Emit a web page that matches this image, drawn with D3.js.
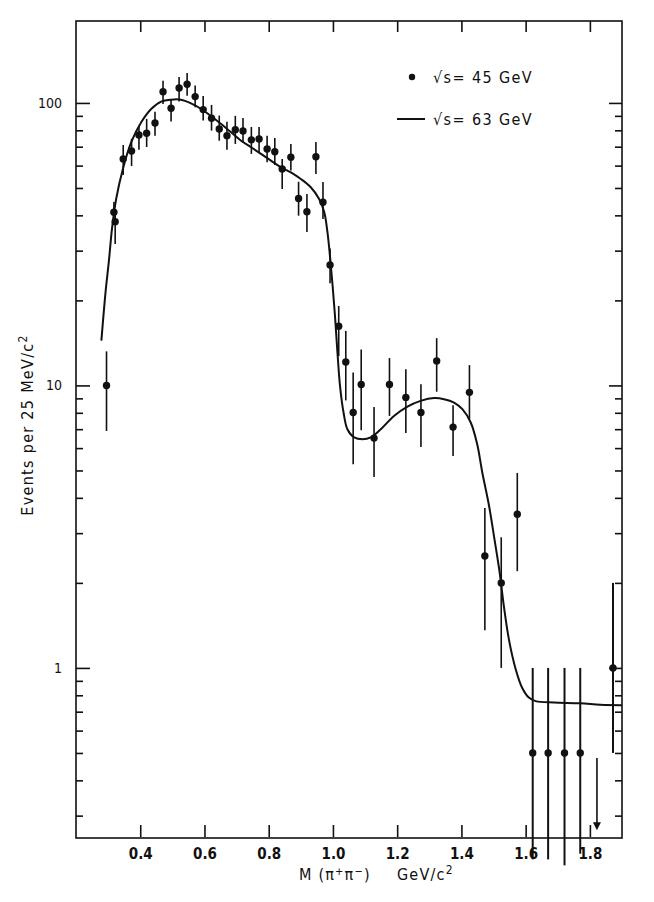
<!DOCTYPE html>
<html>
<head>
<meta charset="utf-8">
<script src="https://cdn.jsdelivr.net/npm/d3@7"></script>
<style>
  html, body { margin: 0; padding: 0; background: #fff; }
  svg { display: block; }
  text { font-family: "DejaVu Sans Condensed", "Liberation Sans Narrow", "DejaVu Sans", sans-serif; font-stretch: condensed; fill: #111; }
</style>
</head>
<body>
<svg id="chart" width="654" height="902"></svg>
<script>
// ---- data: sqrt(s) = 45 GeV points (mass in GeV/c^2, events per 25 MeV/c^2) ----
const mass45 = [0.295, 0.318, 0.322, 0.347, 0.373, 0.396, 0.420, 0.446, 0.471, 0.496,
                0.521, 0.546, 0.571, 0.596, 0.622, 0.646, 0.670, 0.696, 0.720, 0.746,
                0.770, 0.795, 0.819, 0.842, 0.869, 0.893, 0.919, 0.947, 0.969, 0.991,
                1.018, 1.040, 1.063, 1.088, 1.128, 1.176, 1.227, 1.274, 1.323, 1.374,
                1.425, 1.473, 1.524, 1.574, 1.622, 1.670, 1.721, 1.770, 1.872];
const events45 = [10.0, 41.0, 38.0, 63.3, 67.6, 77.0, 78.1, 84.9, 109.6, 95.8,
                  113.0, 116.5, 105.3, 94.7, 88.3, 80.9, 76.6, 80.4, 79.6, 74.0,
                  74.6, 68.7, 67.2, 58.4, 64.2, 45.9, 41.2, 64.5, 44.5, 26.7,
                  16.2, 12.1, 8.02, 10.08, 6.51, 10.08, 9.07, 8.02, 12.2, 7.12,
                  9.45, 2.49, 2.0, 3.5, 0.5, 0.5, 0.5, 0.5, 1.0];
const errHigh45 = [13.2, 44.6, 41.5, 71.0, 74.6, 83.1, 87.8, 93.1, 119.9, 103.3,
                   123.6, 127.7, 115.2, 105.9, 98.4, 90.2, 85.7, 90.0, 88.5, 82.2,
                   82.2, 76.6, 75.2, 63.3, 71.6, 52.6, 47.6, 72.8, 52.5, 30.5,
                   19.1, 15.6, 11.1, 13.4, 8.38, 12.5, 11.4, 10.1, 14.7, 8.5,
                   11.8, 3.68, 2.9, 4.9, 1.0, 1.0, 1.0, 1.0, 2.0];
const errLow45 = [6.9, 37.5, 31.7, 55.6, 59.8, 68.3, 69.8, 76.6, 99.2, 85.9,
                  101.1, 106.1, 96.6, 86.6, 79.8, 73.5, 68.3, 71.6, 72.2, 66.0,
                  67.1, 61.7, 60.3, 49.6, 57.6, 39.9, 34.9, 56.0, 38.8, 23.0,
                  12.7, 8.85, 5.26, 6.94, 4.74, 7.8, 6.78, 6.05, 9.5, 5.63,
                  7.6, 1.36, 1.0, 2.2, 0.21, 0.21, 0.20, 0.22, 0.5];
// upper limit point
const limitMass = [1.822];
const limitTop = [0.48];
const limitVal = [0.275];

// ---- data: sqrt(s) = 63 GeV fitted curve ----
const fitMass = [0.279, 0.292, 0.303, 0.312, 0.325, 0.346, 0.372, 0.403, 0.434, 0.465,
                 0.496, 0.527, 0.558, 0.590, 0.621, 0.652, 0.683, 0.714, 0.745, 0.776,
                 0.807, 0.838, 0.869, 0.900, 0.931, 0.957, 0.973, 0.983, 0.991, 0.999,
                 1.007, 1.014, 1.022, 1.033, 1.045, 1.066, 1.092, 1.118, 1.149, 1.190,
                 1.232, 1.273, 1.315, 1.346, 1.377, 1.403, 1.429, 1.449, 1.465, 1.486,
                 1.503, 1.519, 1.532, 1.548, 1.569, 1.589, 1.610, 1.631, 1.688, 1.770,
                 1.833, 1.900];
const fitEvents = [14.4, 21.4, 28.0, 35.8, 45.7, 58.4, 72.6, 85.4, 95.2, 101.1,
                   102.7, 102.7, 99.7, 95.2, 89.7, 84.2, 78.7, 73.5, 69.7, 66.0,
                   62.5, 59.2, 56.8, 53.8, 50.3, 45.7, 41.0, 34.8, 28.5, 22.5,
                   17.2, 13.1, 9.97, 8.02, 7.0, 6.55, 6.45, 6.55, 7.0, 7.8,
                   8.42, 8.82, 9.02, 8.94, 8.7, 8.24, 7.39, 6.2, 4.92, 3.75,
                   2.85, 2.18, 1.66, 1.26, 0.99, 0.851, 0.785, 0.763, 0.754, 0.75,
                   0.74, 0.738];

// ---- ticks ----
const xTicks = [0.4, 0.6, 0.8, 1.0, 1.2, 1.4, 1.6, 1.8];
const xTickLabels = ["0.4", "0.6", "0.8", "1.0", "1.2", "1.4", "1.6", "1.8"];
const yMajor = [1, 10, 100];
const yMajorLabels = ["1", "10", "100"];

// ---- layout ----
const L = 76, R = 622, T = 21, B = 838;
const svg = d3.select("#chart");
svg.append("rect").attr("width", 654).attr("height", 902).attr("fill", "#fff");

const x = d3.scaleLinear().domain([0.2, 1.9]).range([L, R]);
const y = d3.scaleLog().domain([0.25, 195]).range([B, T]);
const yMinor = y.ticks().filter(v => !yMajor.includes(v));

// frame
svg.append("rect").attr("x", L).attr("y", T).attr("width", R - L).attr("height", B - T)
  .attr("fill", "none").attr("stroke", "#111").attr("stroke-width", 1.6);

function styleAxis(g) {
  g.select(".domain").remove();
  g.selectAll("line").attr("stroke", "#111").attr("stroke-width", 1.6);
}

// left axis: major with labels, minor without
svg.append("g").attr("transform", `translate(${L},0)`)
  .call(d3.axisLeft(y).tickValues(yMajor).tickSizeInner(-14).tickSizeOuter(0).tickPadding(14)
    .tickFormat((d, i) => yMajorLabels[i]))
  .call(styleAxis)
  .call(g => g.selectAll("text").attr("font-size", 14).attr("fill", "#111")
    .style("font-family", "'DejaVu Sans Condensed','Liberation Sans Narrow',sans-serif"));
svg.append("g").attr("transform", `translate(${L},0)`)
  .call(d3.axisLeft(y).tickValues(yMinor).tickSizeInner(-7).tickSizeOuter(0).tickFormat(""))
  .call(styleAxis);

// right axis
svg.append("g").attr("transform", `translate(${R},0)`)
  .call(d3.axisRight(y).tickValues(yMajor).tickSizeInner(-13).tickSizeOuter(0).tickFormat(""))
  .call(styleAxis);
svg.append("g").attr("transform", `translate(${R},0)`)
  .call(d3.axisRight(y).tickValues(yMinor).tickSizeInner(-7).tickSizeOuter(0).tickFormat(""))
  .call(styleAxis);

// bottom axis
svg.append("g").attr("transform", `translate(0,${B - 1})`)
  .call(d3.axisBottom(x).tickValues(xTicks).tickSizeInner(-12).tickSizeOuter(0).tickPadding(11)
    .tickFormat((d, i) => xTickLabels[i]))
  .call(styleAxis)
  .call(g => g.selectAll("text").attr("font-size", 15).attr("font-weight", "bold").attr("fill", "#111")
    .style("font-family", "'DejaVu Sans Condensed','Liberation Sans Narrow',sans-serif"));

// top axis
svg.append("g").attr("transform", `translate(0,${T})`)
  .call(d3.axisTop(x).tickValues(xTicks).tickSizeInner(-11).tickSizeOuter(0).tickFormat(""))
  .call(styleAxis);

// fitted curve (63 GeV)
const line = d3.line().x(d => x(d[0])).y(d => y(d[1])).curve(d3.curveCatmullRom.alpha(0.5));
svg.append("path").datum(fitMass.map((m, i) => [m, fitEvents[i]]))
  .attr("d", line).attr("fill", "none").attr("stroke", "#111").attr("stroke-width", 2);

// data points (45 GeV)
const pts = mass45.map((m, i) => ({ m, v: events45[i], hi: errHigh45[i], lo: errLow45[i] }));
const gp = svg.append("g");
gp.selectAll("line.err").data(pts).join("line").attr("class", "err")
  .attr("x1", d => x(d.m)).attr("x2", d => x(d.m))
  .attr("y1", d => y(d.hi)).attr("y2", d => y(d.lo))
  .attr("stroke", "#111").attr("stroke-width", d => d.m > 1.6 ? 2 : 1.6);
gp.selectAll("circle").data(pts).join("circle")
  .attr("cx", d => x(d.m)).attr("cy", d => y(d.v)).attr("r", 3.7).attr("fill", "#111");

// upper limit
const lim = limitMass.map((m, i) => ({ m, top: limitTop[i], v: limitVal[i] }));
gp.selectAll("line.lim").data(lim).join("line").attr("class", "lim")
  .attr("x1", d => x(d.m)).attr("x2", d => x(d.m))
  .attr("y1", d => y(d.top)).attr("y2", d => y(d.v))
  .attr("stroke", "#111").attr("stroke-width", 1.6);
gp.selectAll("path.tri").data(lim).join("path").attr("class", "tri")
  .attr("d", d => { const cx = x(d.m), cy = y(d.v); return `M${cx - 4},${cy - 4}L${cx + 4},${cy - 4}L${cx},${cy + 4}Z`; })
  .attr("fill", "#111");

// legend
const lg = svg.append("g");
lg.append("circle").attr("cx", 412).attr("cy", 77).attr("r", 3.2).attr("fill", "#111");
lg.append("text").attr("x", 433).attr("y", 83).attr("font-size", 16).attr("letter-spacing", 1.4)
  .text("√s= 45 GeV");
lg.append("line").attr("x1", 397).attr("x2", 425).attr("y1", 119).attr("y2", 119)
  .attr("stroke", "#111").attr("stroke-width", 2);
lg.append("text").attr("x", 433).attr("y", 125).attr("font-size", 16).attr("letter-spacing", 1.4)
  .text("√s= 63 GeV");

// x axis title
const xt = svg.append("text").attr("x", 299).attr("y", 880).attr("font-size", 16).attr("letter-spacing", 1.2);
xt.append("tspan").text("M  (π");
xt.append("tspan").attr("dy", -5).attr("font-size", 11).text("+");
xt.append("tspan").attr("dy", 5).text("π");
xt.append("tspan").attr("dy", -5).attr("font-size", 11).text("−");
xt.append("tspan").attr("dy", 5).text(")");
xt.append("tspan").attr("x", 397).text("GeV/c");
xt.append("tspan").attr("dy", -6).attr("font-size", 12).text("2");

// y axis title
const yt = svg.append("text").attr("transform", "translate(33,425) rotate(-90)")
  .attr("text-anchor", "middle").attr("font-size", 16).attr("letter-spacing", 1.3);
yt.append("tspan").text("Events per 25 MeV/c");
yt.append("tspan").attr("dy", -6).attr("font-size", 12).text("2");
</script>
</body>
</html>
